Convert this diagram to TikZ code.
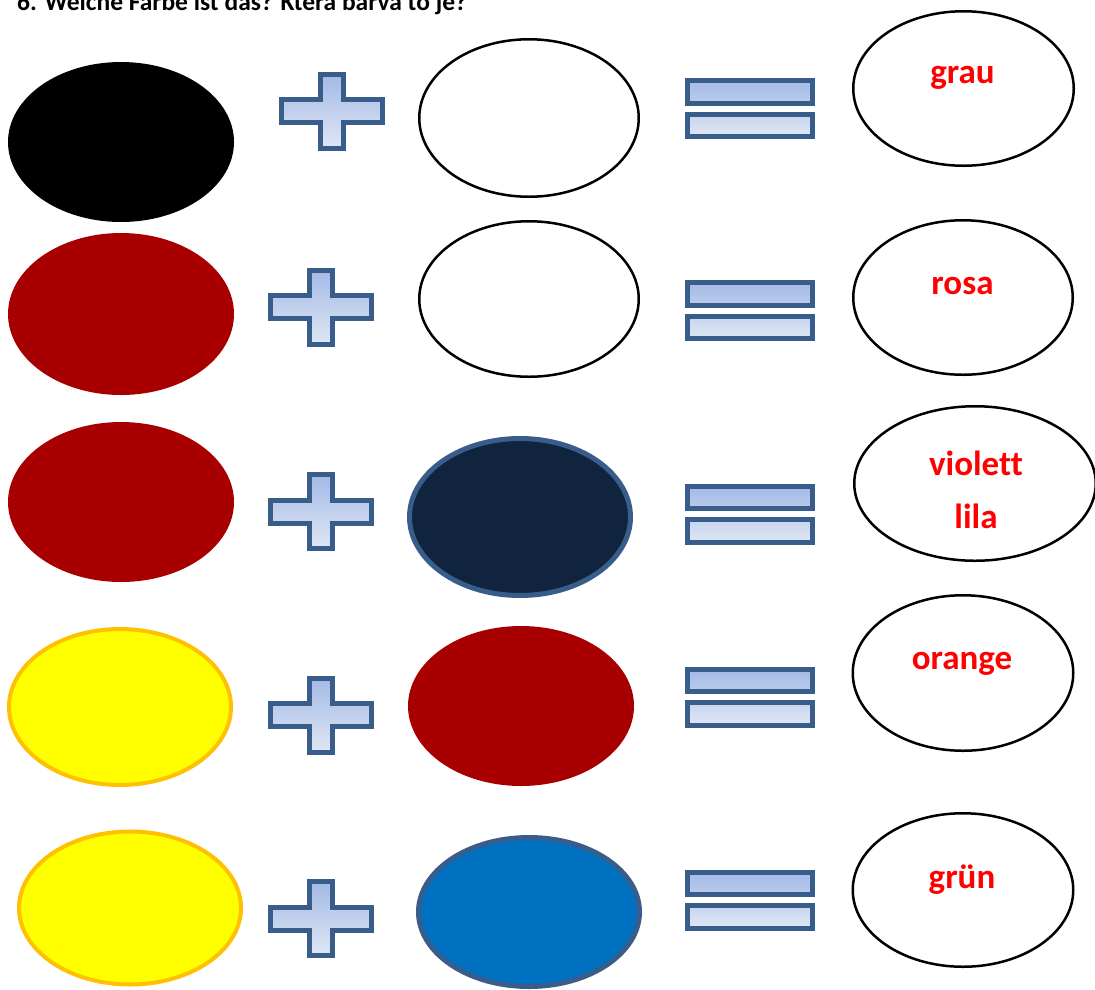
\documentclass[tikz,border=0pt]{standalone}
\usepackage{fontspec}
\setmainfont{Carlito}[Ligatures=NoCommon]
\usetikzlibrary{shapes.geometric}

\definecolor{darkred}{HTML}{A80000}
\definecolor{navyfill}{HTML}{10243E}
\definecolor{bluefill}{HTML}{0070C0}
\definecolor{yellowfill}{HTML}{FFFF00}
\definecolor{signline}{HTML}{385D8A}
\definecolor{signtop}{HTML}{A3B9E6}
\definecolor{signbottom}{HTML}{DFE7F4}
\definecolor{yellowline}{HTML}{FFC000}

\tikzset{
	blob/.style={shape=ellipse, inner sep=0pt},
	paint/.style={blob, draw=none},
	answer/.style={blob, draw=black, line width=2.5pt},
	sign/.style={draw=signline, line width=5pt, top color=signtop, bottom color=signbottom},
	word/.style={anchor=base, text=red, font=\fontsize{35}{42}\selectfont\bfseries}
}

% plus sign, centre x and y
\newcommand{\plussign}[2]{
	\draw[sign, shift={(#1,#2)}] (-50.5,-11.5) -- (-11.5,-11.5) -- (-11.5,-37) -- (11.5,-37) -- (11.5,-11.5) -- (50.5,-11.5) -- (50.5,11.5) -- (11.5,11.5) -- (11.5,37) -- (-11.5,37) -- (-11.5,11.5) -- (-50.5,11.5) -- cycle;
}
% equals sign, centre y
\newcommand{\equalsign}[1]{
	\draw[sign, shift={(750,#1)}] (-62.5,-28) rectangle (62.5,-5.5) (-62.5,5.5) rectangle (62.5,28);
}

\begin{document}
\begin{tikzpicture}[x=1pt, y=-1pt]
	\useasboundingbox (0,0) rectangle (1095,989);
	% Title:
	\node[anchor=base west, inner sep=0pt, font=\fontsize{25.5}{30}\selectfont\bfseries] (title) at (17,10.5) {6. Welche Farbe ist das? Která barva to je?};
	% Row 1:
	\node[paint, fill=black, minimum width=226pt, minimum height=160pt] (black1) at (121,142) {};
	\plussign{331.5}{111}
	\node[answer, minimum width=219.5pt, minimum height=157.5pt] (white1) at (529,118) {};
	\equalsign{108.5}
	\node[answer, minimum width=220.5pt, minimum height=154.5pt] (res1) at (963.5,88.5) {};
	\node[word] (grau) at (962.5,83) {grau};
	% Row 2:
	\node[paint, fill=darkred, minimum width=226pt, minimum height=162pt] (red2) at (121,314) {};
	\plussign{321}{307}
	\node[answer, minimum width=219.5pt, minimum height=155.5pt] (white2) at (529,299) {};
	\equalsign{310.5}
	\node[answer, minimum width=219.5pt, minimum height=154.5pt] (res2) at (963,297.5) {};
	\node[word] (rosa) at (962.5,294) {rosa};
	% Row 3:
	\node[paint, fill=darkred, minimum width=226pt, minimum height=160pt] (red3) at (121,502) {};
	\plussign{321}{511.5}
	\node[blob, draw=signline, line width=5pt, fill=navyfill, minimum width=221pt, minimum height=157pt] (navy3) at (520,517) {};
	\equalsign{514}
	\node[answer, minimum width=241.5pt, minimum height=154.5pt] (res3) at (975,483.5) {};
	\node[word] (violett) at (976,475) {violett};
	\node[word] (lila) at (976,528) {lila};
	% Row 4:
	\node[blob, draw=yellowline, line width=4pt, fill=yellowfill, minimum width=222pt, minimum height=156pt] (yellow4) at (120,707) {};
	\plussign{321}{715}
	\node[paint, fill=darkred, minimum width=226pt, minimum height=160pt] (red4) at (521,706) {};
	\equalsign{697}
	\node[answer, minimum width=220.5pt, minimum height=155.5pt] (res4) at (963,673) {};
	\node[word] (orange) at (962,669) {orange};
	% Row 5:
	\node[blob, draw=yellowline, line width=4pt, fill=yellowfill, minimum width=222pt, minimum height=153pt] (yellow5) at (130,908) {};
	\plussign{321}{918.5}
	\node[blob, draw=signline, line width=5pt, fill=bluefill, minimum width=221pt, minimum height=149pt] (blue5) at (529,912) {};
	\equalsign{900}
	\node[answer, minimum width=220.5pt, minimum height=153.5pt] (res5) at (963,890) {};
	\node[word] (gruen) at (962,888) {grün};
\end{tikzpicture}
\end{document}
